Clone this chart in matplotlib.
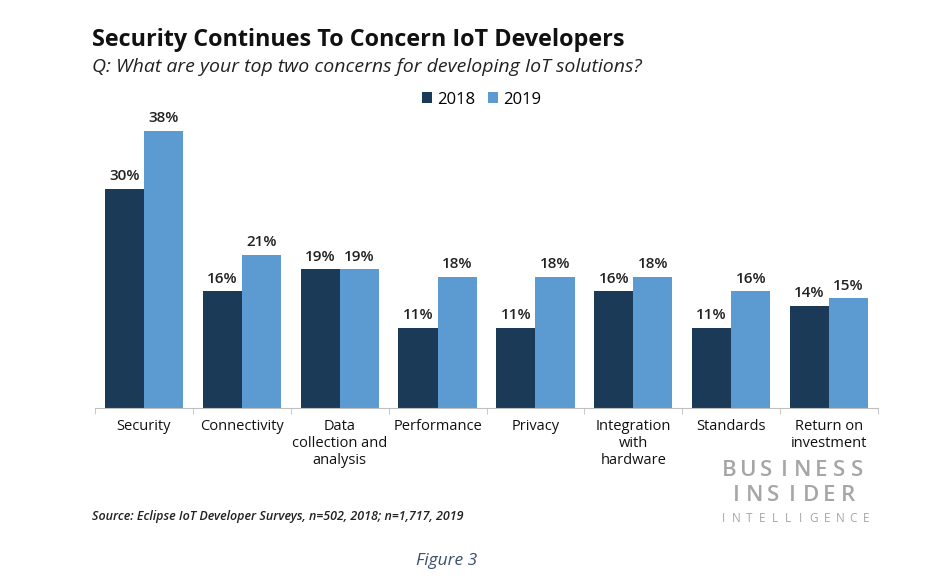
import numpy as np
import matplotlib.pyplot as plt

# Data
categories = ["Security", "Connectivity", "Data\ncollection and\nanalysis", "Performance",
              "Privacy", "Integration\nwith\nhardware", "Standards", "Return on\ninvestment"]
values_2018 = [30, 16, 19, 11, 11, 16, 11, 14]
values_2019 = [38, 21, 19, 18, 18, 18, 16, 15]
series_labels = ["2018", "2019"]

DARK = "#1b3a57"
LIGHT = "#5b9bd1"

plt.rcParams['font.family'] = ['Open Sans', 'DejaVu Sans']

fig = plt.figure(figsize=(9.26, 5.86), dpi=100)
ax = fig.add_axes([0.1026, 0.3038, 0.8456, 0.4982])

x = np.arange(len(categories))
w = 0.4
b1 = ax.bar(x - w / 2, values_2018, w, color=DARK, label=series_labels[0])
b2 = ax.bar(x + w / 2, values_2019, w, color=LIGHT, label=series_labels[1])

for bars in (b1, b2):
    for rect in bars:
        h = rect.get_height()
        ax.annotate(f"{h:.0f}%", (rect.get_x() + rect.get_width() / 2, h),
                    xytext=(0, 4), textcoords="offset points",
                    ha="center", va="bottom", fontsize=11, fontweight="semibold",
                    color="#222222")

ax.set_xlim(-0.5, len(categories) - 0.5)
ax.set_ylim(0, 40)
ax.set_yticks([])
for s in ["top", "right", "left"]:
    ax.spines[s].set_visible(False)
ax.spines["bottom"].set_color("#bfbfbf")
ax.set_xticks(x)
ax.set_xticklabels(categories, fontsize=10.5, color="#111111", linespacing=1.2)
ax.tick_params(axis="x", length=0, pad=8)
# small separators between groups
ax.set_xticks(np.arange(-0.5, len(categories)), minor=True)
ax.tick_params(axis="x", which="minor", length=4, color="#bfbfbf")

ax.legend(loc="upper left", bbox_to_anchor=(0.398, 1.135), ncol=2, frameon=False,
          fontsize=12, handlelength=0.6, handleheight=0.6, handletextpad=0.3,
          columnspacing=0.8)

# Titles
fig.text(0.099, 0.932, "Security Continues To Concern IoT Developers",
         fontsize=16.8, fontweight="bold", color="#111111", va="center")
fig.text(0.099, 0.886, "Q: What are your top two concerns for developing IoT solutions?",
         fontsize=14, fontstyle="italic", color="#222222", va="center")

fig.text(0.099, 0.118, "Source: Eclipse IoT Developer Surveys, n=502, 2018; n=1,717, 2019",
         fontsize=9, fontstyle="italic", fontweight="semibold", color="#222222", va="center")

# Logo
def spaced(txt, x0, x1, y, size, weight="normal"):
    xs = np.linspace(x0, x1, len(txt))
    for ch, xx in zip(txt, xs):
        fig.text(xx, y, ch, fontsize=size, color="#a6a6a6", ha="center", va="center",
                 fontweight=weight)

spaced("BUSINESS", 0.788, 0.926, 0.197, 16, "semibold")
spaced("INSIDER", 0.795, 0.916, 0.155, 16, "semibold")
spaced("INTELLIGENCE", 0.781, 0.935, 0.116, 8.5)

fig.text(0.482, 0.043, "Figure 3", fontsize=12.5, fontstyle="italic", color="#3c4f6b",
         ha="center", va="center")

fig.savefig("out.png", dpi=100)
